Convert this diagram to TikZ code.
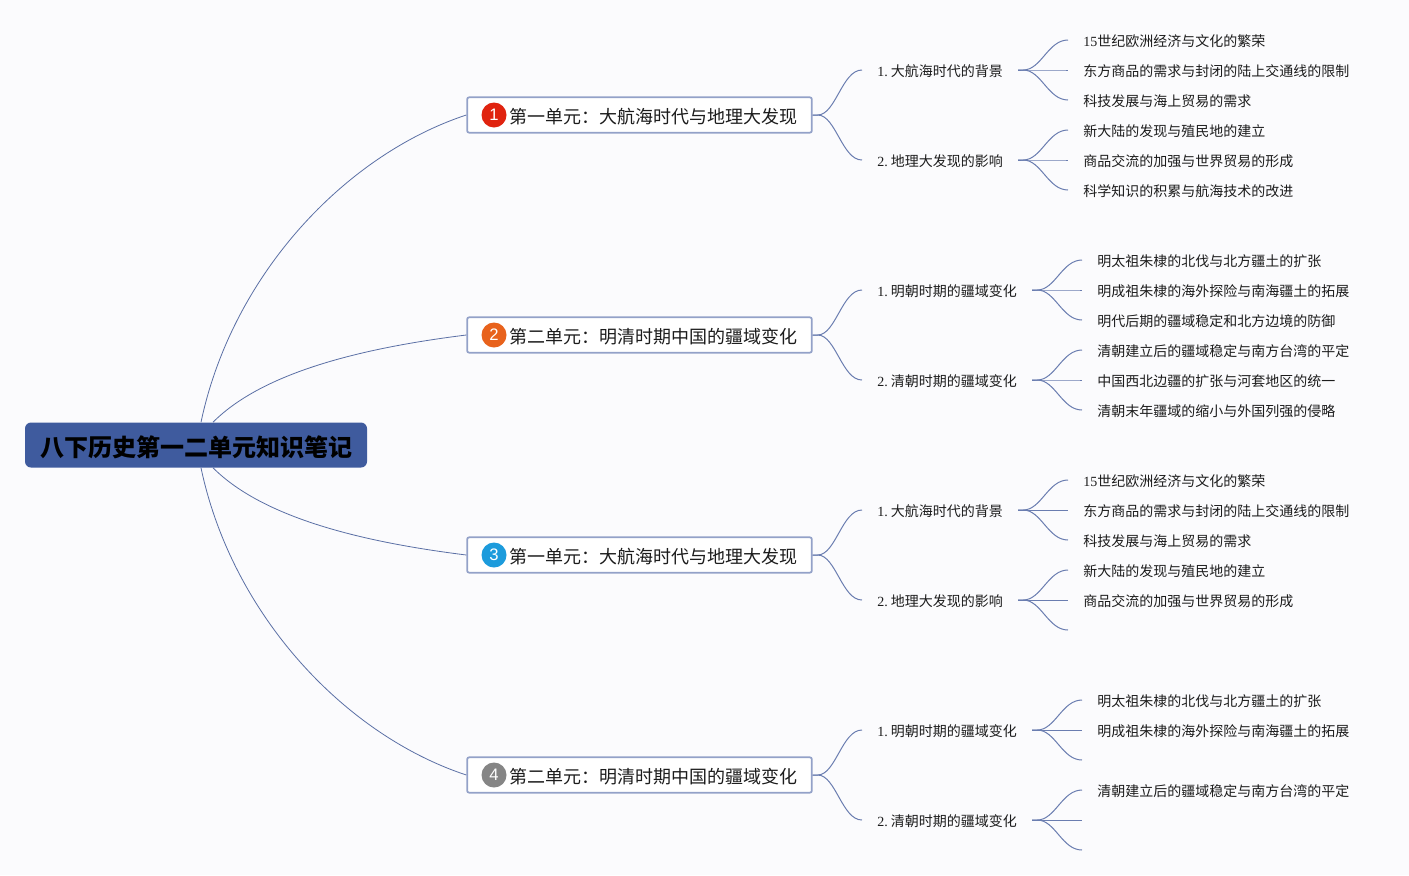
\documentclass[tikz,border=0pt]{standalone}
\usepackage{fontspec}
\setmainfont{Liberation Serif}
\setsansfont{Liberation Sans}
\newfontfamily\cjk{Noto Sans CJK SC}
\definecolor{bgc}{HTML}{FBFBFD}
\definecolor{rootc}{HTML}{3F5B9E}
\definecolor{linec}{HTML}{5A6FA5}
\definecolor{branchc}{HTML}{6A7DB0}
\definecolor{boxc}{HTML}{93A1C8}
\definecolor{txtc}{HTML}{1C1C1C}
\definecolor{bred}{HTML}{E0230F}
\definecolor{boran}{HTML}{E8621C}
\definecolor{bblue}{HTML}{1C9BDC}
\definecolor{bgray}{HTML}{858585}
\tikzset{
  rootbox/.style={rectangle,rounded corners=4.5pt,fill=rootc,minimum width=256.5pt,minimum height=33.75pt,inner sep=0pt,text=black,font=\fontsize{18}{20}\selectfont\cjk\bfseries},
  unitbox/.style={rectangle,rounded corners=1.5pt,draw=boxc,line width=1.3pt,fill=white,minimum width=258.5pt,minimum height=26.5pt,inner sep=0pt,text=txtc},
  unittext/.style={anchor=west,inner sep=0pt,text=txtc,font=\fontsize{13.5}{15}\selectfont\cjk},
  badge/.style={circle,minimum size=18.75pt,inner sep=0pt,text=white,font=\fontsize{12.5}{14}\selectfont\sffamily},
  subnode/.style={anchor=west,inner xsep=11.25pt,inner ysep=0pt,text=txtc,font=\fontsize{10.5}{12}\selectfont\rmfamily},
  leafnode/.style={anchor=west,inner xsep=11.25pt,inner ysep=0pt,text=txtc,font=\fontsize{10.5}{12}\selectfont\cjk},
  mainlink/.style={draw=linec,line width=0.6pt},
  branch/.style={draw=branchc,line width=0.75pt},
}
\newcommand{\lnk}[2]{\draw[branch] ([yshift=0.75pt]#1) -- +(5,0) .. controls +(18,0) and +(-20,0) .. ([yshift=0.75pt]#2);}
\newcommand{\ulnk}[2]{\draw[branch] (#1) -- +(5,0) .. controls +(18,0) and +(-20,0) .. ([yshift=0.75pt]#2);}
\newcommand{\sno}[1]{#1.\hspace{2.4pt}\cjk}
\begin{document}
\begin{tikzpicture}[x=0.75pt,y=-0.75pt]
\useasboundingbox (0,0) rectangle (1409,875);
\fill[bgc] (0,0) rectangle (1409,875);
% root
\node[rootbox] (root) at (196,445) {\raisebox{0pt}[\dimexpr\height+3pt\relax][\depth]{八下历史第一二单元知识笔记}};
\coordinate (rn1) at ([xshift=3.75pt]root.north);
\coordinate (rn2) at ([xshift=12.75pt]root.north);
\coordinate (rs1) at ([xshift=3.75pt]root.south);
\coordinate (rs2) at ([xshift=12.75pt]root.south);
% units
\node[unitbox] (u1) at (639.5,115) {};
\node[unitbox] (u2) at (639.5,335) {};
\node[unitbox] (u3) at (639.5,555) {};
\node[unitbox] (u4) at (639.5,775) {};
\node[badge,fill=bred] (b1) at (494,115) {1};
\node[badge,fill=boran] (b2) at (494,335) {2};
\node[badge,fill=bblue] (b3) at (494,555) {3};
\node[badge,fill=bgray] (b4) at (494,775) {4};
\node[unittext] (t1) at (509,116.5) {第一单元：大航海时代与地理大发现};
\node[unittext] (t2) at (509,336.5) {第二单元：明清时期中国的疆域变化};
\node[unittext] (t3) at (509,556.5) {第一单元：大航海时代与地理大发现};
\node[unittext] (t4) at (509,776.5) {第二单元：明清时期中国的疆域变化};
% root links
\draw[mainlink] (rn1) .. controls (232,275) and (345,155) .. (u1.west);
\draw[mainlink] (rn2) .. controls (265,370) and (370,347) .. (u2.west);
\draw[mainlink] (rs2) .. controls (265,520) and (370,543) .. (u3.west);
\draw[mainlink] (rs1) .. controls (232,615) and (345,735) .. (u4.west);
% subs
\node[subnode] (s11) at (862,71) {\sno{1}大航海时代的背景};
\node[subnode] (s12) at (862,161) {\sno{2}地理大发现的影响};
\node[subnode] (s21) at (862,291) {\sno{1}明朝时期的疆域变化};
\node[subnode] (s22) at (862,381) {\sno{2}清朝时期的疆域变化};
\node[subnode] (s31) at (862,511) {\sno{1}大航海时代的背景};
\node[subnode] (s32) at (862,601) {\sno{2}地理大发现的影响};
\node[subnode] (s41) at (862,731) {\sno{1}明朝时期的疆域变化};
\node[subnode] (s42) at (862,821) {\sno{2}清朝时期的疆域变化};
% leaves
\node[leafnode] (a1) at (1068,41) {\rmfamily 15\cjk 世纪欧洲经济与文化的繁荣};
\node[leafnode] (a2) at (1068,71) {东方商品的需求与封闭的陆上交通线的限制};
\node[leafnode] (a3) at (1068,101) {科技发展与海上贸易的需求};
\node[leafnode] (a4) at (1068,131) {新大陆的发现与殖民地的建立};
\node[leafnode] (a5) at (1068,161) {商品交流的加强与世界贸易的形成};
\node[leafnode] (a6) at (1068,191) {科学知识的积累与航海技术的改进};
\node[leafnode] (c1) at (1082,261) {明太祖朱棣的北伐与北方疆土的扩张};
\node[leafnode] (c2) at (1082,291) {明成祖朱棣的海外探险与南海疆土的拓展};
\node[leafnode] (c3) at (1082,321) {明代后期的疆域稳定和北方边境的防御};
\node[leafnode] (c4) at (1082,351) {清朝建立后的疆域稳定与南方台湾的平定};
\node[leafnode] (c5) at (1082,381) {中国西北边疆的扩张与河套地区的统一};
\node[leafnode] (c6) at (1082,411) {清朝末年疆域的缩小与外国列强的侵略};
\node[leafnode] (d1) at (1068,481) {\rmfamily 15\cjk 世纪欧洲经济与文化的繁荣};
\node[leafnode] (d2) at (1068,511) {东方商品的需求与封闭的陆上交通线的限制};
\node[leafnode] (d3) at (1068,541) {科技发展与海上贸易的需求};
\node[leafnode] (d4) at (1068,571) {新大陆的发现与殖民地的建立};
\node[leafnode] (d5) at (1068,601) {商品交流的加强与世界贸易的形成};
\coordinate (d6) at (1068,631);
\node[leafnode] (e1) at (1082,701) {明太祖朱棣的北伐与北方疆土的扩张};
\node[leafnode] (e2) at (1082,731) {明成祖朱棣的海外探险与南海疆土的拓展};
\coordinate (e3) at (1082,761);
\node[leafnode] (e4) at (1082,791) {清朝建立后的疆域稳定与南方台湾的平定};
\coordinate (e5) at (1082,821);
\coordinate (e6) at (1082,851);
% unit to sub
\ulnk{u1.east}{s11.west} \ulnk{u1.east}{s12.west}
\ulnk{u2.east}{s21.west} \ulnk{u2.east}{s22.west}
\ulnk{u3.east}{s31.west} \ulnk{u3.east}{s32.west}
\ulnk{u4.east}{s41.west} \ulnk{u4.east}{s42.west}
% sub to leaf
\lnk{s11.east}{a1.west} \lnk{s11.east}{a2.west} \lnk{s11.east}{a3.west}
\lnk{s12.east}{a4.west} \lnk{s12.east}{a5.west} \lnk{s12.east}{a6.west}
\lnk{s21.east}{c1.west} \lnk{s21.east}{c2.west} \lnk{s21.east}{c3.west}
\lnk{s22.east}{c4.west} \lnk{s22.east}{c5.west} \lnk{s22.east}{c6.west}
\lnk{s31.east}{d1.west} \lnk{s31.east}{d2.west} \lnk{s31.east}{d3.west}
\lnk{s32.east}{d4.west} \lnk{s32.east}{d5.west} \lnk{s32.east}{d6}
\lnk{s41.east}{e1.west} \lnk{s41.east}{e2.west} \lnk{s41.east}{e3}
\lnk{s42.east}{e4.west} \lnk{s42.east}{e5} \lnk{s42.east}{e6}
\end{tikzpicture}
\end{document}
